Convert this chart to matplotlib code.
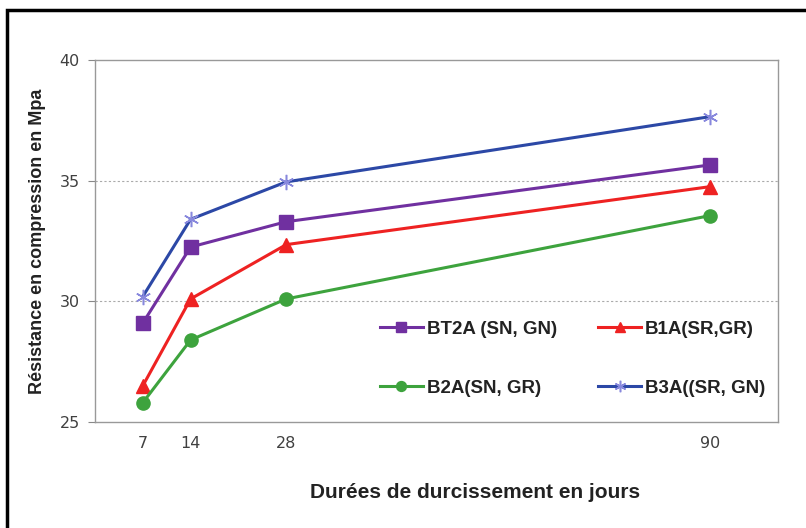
import matplotlib
matplotlib.use("Agg")
import matplotlib.pyplot as plt
from matplotlib.patches import Rectangle

# durées de durcissement (jours)
jours = [7, 14, 28, 90]
bt2a = [29.1, 32.25, 33.3, 35.65]
b1a = [26.5, 30.1, 32.35, 34.75]
b2a = [25.8, 28.4, 30.1, 33.55]
b3a = [30.2, 33.4, 34.95, 37.65]

noms = ["BT2A (SN, GN)", "B1A(SR,GR)", "B2A(SN, GR)", "B3A((SR, GN)"]

fig = plt.figure(figsize=(8.06, 5.28), dpi=100)
ax = fig.add_axes([95 / 806, 1 - 422 / 528, 683 / 806, 362 / 528])

l1, = ax.plot(jours, bt2a, color="#7030A0", lw=2.2, marker="s", ms=9.5)
l2, = ax.plot(jours, b1a, color="#EE2222", lw=2.2, marker="^", ms=9.5)
l3, = ax.plot(jours, b2a, color="#3DA33D", lw=2.2, marker="o", ms=9.5)
l4, = ax.plot(jours, b3a, color="#2C48A6", lw=2.2, marker=(6, 2, 0), ms=11,
              mec="#8888DD", mew=1.1)

ax.set_xlim(0, 100)
ax.set_ylim(25, 40)
ax.set_xticks(jours)
ax.set_yticks([25, 30, 35, 40])
ax.tick_params(axis="x", length=0, pad=10)
ax.tick_params(axis="y", length=5, color="#888888", pad=6)
for lab in ax.get_xticklabels() + ax.get_yticklabels():
    lab.set_family(["Liberation Sans Narrow", "DejaVu Sans"])
    lab.set_fontsize(11.5)
    lab.set_color("#404040")

for sp in ax.spines.values():
    sp.set_color("#999999")
    sp.set_linewidth(1)
for yv in [30, 35]:
    ax.axhline(yv, color="#aaaaaa", lw=0.8, ls=(0, (2, 2)), zorder=0)

ax.set_ylabel("Résistance en compression en Mpa", family="Liberation Sans",
              fontsize=13, weight="bold", color="#222222", labelpad=10)
fig.text(475 / 806, 1 - 492 / 528, "Durées de durcissement en jours",
         family="Liberation Sans", fontsize=15, weight="bold",
         color="#222222", ha="center", va="center")

leg = ax.legend([l1, l3, l2, l4], [noms[0], noms[2], noms[1], noms[3]],
                ncol=2, loc="center left", bbox_to_anchor=(0.417, 0.175),
                frameon=False, borderpad=0, borderaxespad=0,
                handlelength=2.3, handletextpad=0.2, labelspacing=2.25,
                columnspacing=2.2, markerscale=0.75,
                prop={"family": "Liberation Sans", "size": 13.5,
                      "weight": "bold"})
for t in leg.get_texts():
    t.set_color("#222222")

fig.patches.append(Rectangle((7 / 806, -0.1), 1.2, 1 - 10 / 528 + 0.1,
                             transform=fig.transFigure, fill=False,
                             ec="black", lw=2.5))

fig.savefig("out.png", dpi=100)
